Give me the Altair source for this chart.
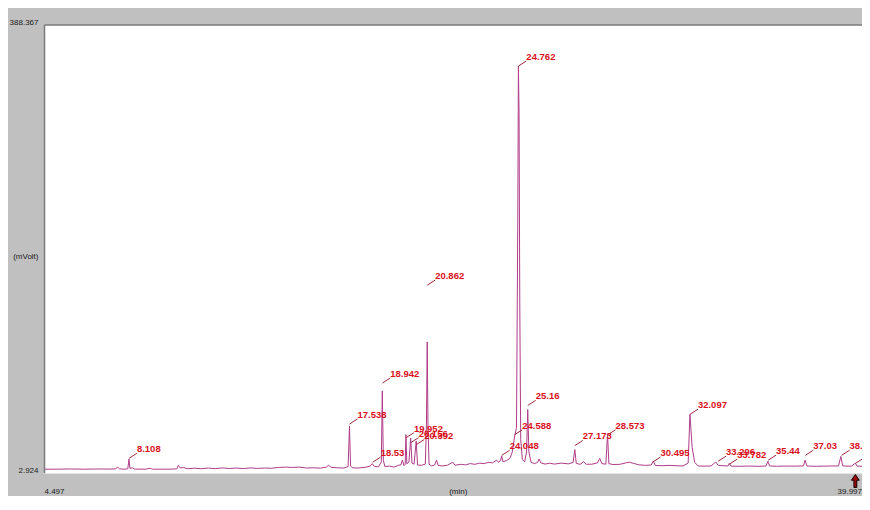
import altair as alt
import pandas as pd

# ---------------- data ----------------
trace_time = [
    4.497, 5.0, 5.6, 6.2, 6.8, 7.3, 7.55, 7.62, 7.7, 7.95,
    8.06, 8.108, 8.15, 8.25, 8.35, 8.8, 9.02, 9.12, 9.7, 10.15,
    10.22, 10.3, 10.45, 10.6, 10.9, 11.2, 11.5, 11.8, 12.1, 12.4,
    12.7, 13.0, 13.3, 13.6, 13.9, 14.2, 14.5, 14.8, 15.1, 15.4,
    15.7, 16.0, 16.3, 16.55, 16.65, 16.75, 17.0, 17.3, 17.48, 17.538,
    17.585, 17.66, 17.9, 18.2, 18.42, 18.51, 18.6, 18.78, 18.9, 18.942,
    18.985, 19.05, 19.25, 19.45, 19.62, 19.74, 19.8, 19.87, 19.92, 19.952,
    19.99, 20.08, 20.156, 20.21, 20.3, 20.392, 20.45, 20.6, 20.78, 20.83,
    20.862, 20.895, 20.94, 21.05, 21.18, 21.26, 21.33, 21.5, 21.72, 21.96,
    22.05, 22.3, 22.5, 22.7, 22.9, 23.1, 23.3, 23.5, 23.65, 23.82,
    23.92, 24.0, 24.048, 24.1, 24.25, 24.4, 24.5, 24.588, 24.68, 24.735,
    24.762, 24.79, 24.82, 24.86, 24.93, 25.03, 25.11, 25.16, 25.21, 25.3,
    25.45, 25.58, 25.65, 25.72, 25.9, 26.1, 26.3, 26.6, 26.9, 27.1,
    27.173, 27.235, 27.4, 27.55, 27.66, 27.9, 28.14, 28.24, 28.33, 28.5,
    28.573, 28.63, 28.8, 29.1, 29.35, 29.5, 29.65, 29.9, 30.2, 30.44,
    30.53, 30.62, 30.9, 31.2, 31.5, 31.8, 32.02, 32.097, 32.19, 32.3,
    32.45, 32.7, 33.0, 33.2, 33.3, 33.5, 33.72, 33.78, 33.86, 34.2,
    34.6, 35.0, 35.35, 35.43, 35.5, 35.8, 36.2, 36.6, 36.95, 37.02,
    37.1, 37.5, 38.0, 38.45, 38.55, 38.63, 39.0, 39.17, 39.24, 39.6,
    39.997,
]
trace_mv = [
    6.2, 6.2, 6.4, 6.2, 6.4, 6.3, 6.5, 8.2, 6.5, 6.2,
    6.6, 14.8, 6.9, 7.4, 6.3, 6.2, 7.0, 6.2, 6.2, 6.4,
    9.5, 7.3, 7.6, 6.6, 7.1, 6.6, 7.2, 6.7, 7.3, 6.8,
    7.2, 6.7, 7.3, 6.9, 7.2, 7.0, 7.7, 8.0, 7.7, 8.0,
    7.2, 7.4, 7.1, 8.0, 9.6, 7.8, 7.4, 7.2, 8.4, 43.3,
    9.0, 7.4, 7.2, 7.8, 8.8, 11.0, 8.6, 8.2, 12.5, 73.6,
    14.0, 8.5, 8.9, 8.0, 9.5, 10.0, 14.0, 9.2, 10.5, 36.0,
    10.8, 12.5, 33.0, 11.5, 10.5, 30.5, 9.8, 9.5, 10.5, 45.0,
    115.7, 45.0, 10.5, 9.0, 9.8, 14.0, 9.5, 9.0, 9.6, 12.2,
    9.6, 10.4, 9.9, 11.0, 10.4, 11.4, 11.0, 12.2, 11.6, 13.8,
    12.2, 14.0, 17.5, 12.6, 13.6, 15.5, 21.0, 33.0, 42.0, 220.0,
    353.0, 311.0, 150.0, 32.0, 14.5, 12.5, 21.0, 57.6, 21.0, 12.2,
    11.0, 12.0, 15.0, 11.6, 10.6, 11.3, 10.6, 11.4, 10.8, 12.0,
    23.1, 11.2, 10.4, 12.6, 10.4, 10.5, 11.6, 15.5, 11.0, 10.5,
    36.6, 11.0, 10.2, 10.4, 11.6, 12.2, 11.4, 10.0, 9.5, 9.8,
    13.0, 9.4, 9.2, 9.5, 9.2, 9.0, 11.5, 53.4, 25.0, 12.0,
    9.0, 8.8, 9.0, 12.4, 9.6, 9.2, 9.0, 11.2, 8.8, 8.7,
    8.9, 8.7, 8.9, 13.0, 9.0, 8.7, 8.9, 8.8, 9.0, 14.0,
    8.9, 8.7, 8.9, 9.0, 17.2, 9.0, 8.8, 11.4, 8.8, 8.7,
    8.8,
]

peak_labels = [
    "8.108", "17.538", "18.53", "18.942", "19.952", "20.156", "20.392",
    "20.862", "24.048", "24.588", "24.762", "25.16", "27.173", "28.573",
    "30.495", "32.097", "33.296", "33.782", "35.44", "37.03", "38.581", "39.182",
]
peak_times = [
    8.108, 17.538, 18.53, 18.942, 19.952, 20.156, 20.392,
    20.862, 24.048, 24.588, 24.762, 25.16, 27.173, 28.573,
    30.495, 32.097, 33.296, 33.782, 35.44, 37.03, 38.581, 39.182,
]
label_levels = [
    15.5, 45.0, 12.2, 80.3, 33.2, 29.0, 27.3,
    164.5, 18.1, 35.7, 353.0, 61.0, 26.5, 35.7,
    12.2, 53.4, 13.0, 10.5, 13.9, 18.1, 18.1, 11.3,
]

y_edge_values = [2.924, 388.367]
y_edge_labels = ["2.924", "388.367"]
x_left_label = ["4.497"]
x_right_label = ["39.997"]
y_title = "(mVolt)"
x_title = "(min)"
marker_time = [39.17]

X_MIN, X_VIEW_MAX = 4.497, 39.454   # right part of the run is cropped as in the reference
Y_MIN, Y_MAX = 2.924, 388.367

# ---------------- layout / style ----------------
W = 817.5
H = 448
FONT = "Liberation Sans, Arial, sans-serif"
TRACE = "#b03c88"
RED = "#d8101c"
LEADER = "#a0283c"
INK = "#1c1c1c"
BORDER = "#7a7a7a"

x_scale = alt.Scale(domain=[X_MIN, X_VIEW_MAX], nice=False, zero=False)
y_scale = alt.Scale(domain=[Y_MIN, Y_MAX], nice=False, zero=False)

trace_df = pd.DataFrame({"t": trace_time, "mv": trace_mv})
lab_df = pd.DataFrame({"t": peak_times, "level": label_levels, "text": peak_labels})

trace = alt.Chart(trace_df).mark_line(color=TRACE, strokeWidth=1, clip=True).encode(
    x=alt.X("t:Q", scale=x_scale, axis=None),
    y=alt.Y("mv:Q", scale=y_scale, axis=None),
)

lab_base = alt.Chart(lab_df).transform_calculate(
    t2="datum.t + 0.34", level2="datum.level + 4.4"
)

leaders = lab_base.mark_rule(color=LEADER, strokeWidth=1).encode(
    x=alt.X("t:Q", scale=x_scale, axis=None),
    y=alt.Y("level:Q", scale=y_scale, axis=None),
    x2="t2:Q",
    y2="level2:Q",
)

labels = lab_base.mark_text(
    align="left", baseline="bottom", dx=0, dy=1, font=FONT, fontSize=9.5,
    fontWeight="bold", color=RED,
).encode(
    x=alt.X("t2:Q", scale=x_scale, axis=None),
    y=alt.Y("level2:Q", scale=y_scale, axis=None),
    text="text:N",
)

y_edges = alt.Chart(pd.DataFrame({"v": y_edge_values, "lab": y_edge_labels})).mark_text(
    align="right", baseline="middle", dx=-6, dy=-2, font=FONT, fontSize=8, color=INK,
).encode(
    x=alt.value(0),
    y=alt.Y("v:Q", scale=y_scale, axis=None),
    text="lab:N",
)

y_tt = alt.Chart(pd.DataFrame({"lab": [y_title]})).mark_text(
    align="right", baseline="middle", dx=-6, font=FONT, fontSize=8, color=INK,
).encode(x=alt.value(0), y=alt.value(232), text="lab:N")

x_l = alt.Chart(pd.DataFrame({"v": [X_MIN], "lab": x_left_label})).mark_text(
    align="left", baseline="middle", font=FONT, fontSize=8, color=INK,
).encode(x=alt.X("v:Q", scale=x_scale, axis=None), y=alt.value(H + 19), text="lab:N")

x_r = alt.Chart(pd.DataFrame({"lab": x_right_label})).mark_text(
    align="right", baseline="middle", font=FONT, fontSize=8, color=INK,
).encode(x=alt.value(W), y=alt.value(H + 19), text="lab:N")

x_tt = alt.Chart(pd.DataFrame({"lab": [x_title]})).mark_text(
    align="center", baseline="middle", font=FONT, fontSize=8, color=INK,
).encode(x=alt.value(W / 2 + 5), y=alt.value(H + 19), text="lab:N")

ARROW = "M0,-1 L0.6,-0.12 L0.22,-0.12 L0.22,1 L-0.22,1 L-0.22,-0.12 L-0.6,-0.12 Z"
marker = alt.Chart(pd.DataFrame({"t": marker_time})).mark_point(
    shape=ARROW, filled=True, fill="#9a0a0a", stroke="#140000", strokeWidth=1,
    size=169, opacity=1,
).encode(x=alt.X("t:Q", scale=x_scale, axis=None), y=alt.value(H + 8))

# sunken frame: dark top and left edges, light bottom edge (the right side is cropped)
frame_df = pd.DataFrame({"k": [0]})
top_edge = alt.Chart(frame_df).mark_rule(color=BORDER, strokeWidth=1.5).encode(
    x=alt.value(0), x2=alt.value(W), y=alt.value(0)
)
left_edge = alt.Chart(frame_df).mark_rule(color=BORDER, strokeWidth=1.5).encode(
    x=alt.value(0), y=alt.value(0), y2=alt.value(H)
)
bottom_edge = alt.Chart(frame_df).mark_rule(color="#e4e4e4", strokeWidth=1).encode(
    x=alt.value(0), x2=alt.value(W), y=alt.value(H + 0.5)
)

chart = alt.layer(
    trace, leaders, labels, top_edge, left_edge, bottom_edge,
    y_edges, y_tt, x_l, x_r, x_tt, marker
).properties(
    width=W,
    height=H,
    background="#c0c0c0",
    autosize=alt.AutoSizeParams(type="none"),
    padding={"left": 36.5, "top": 17, "right": 0, "bottom": 23},
).configure_view(
    fill="white", strokeWidth=0,
)

chart.save("out.html", embed_options={"renderer": "svg", "actions": False})
